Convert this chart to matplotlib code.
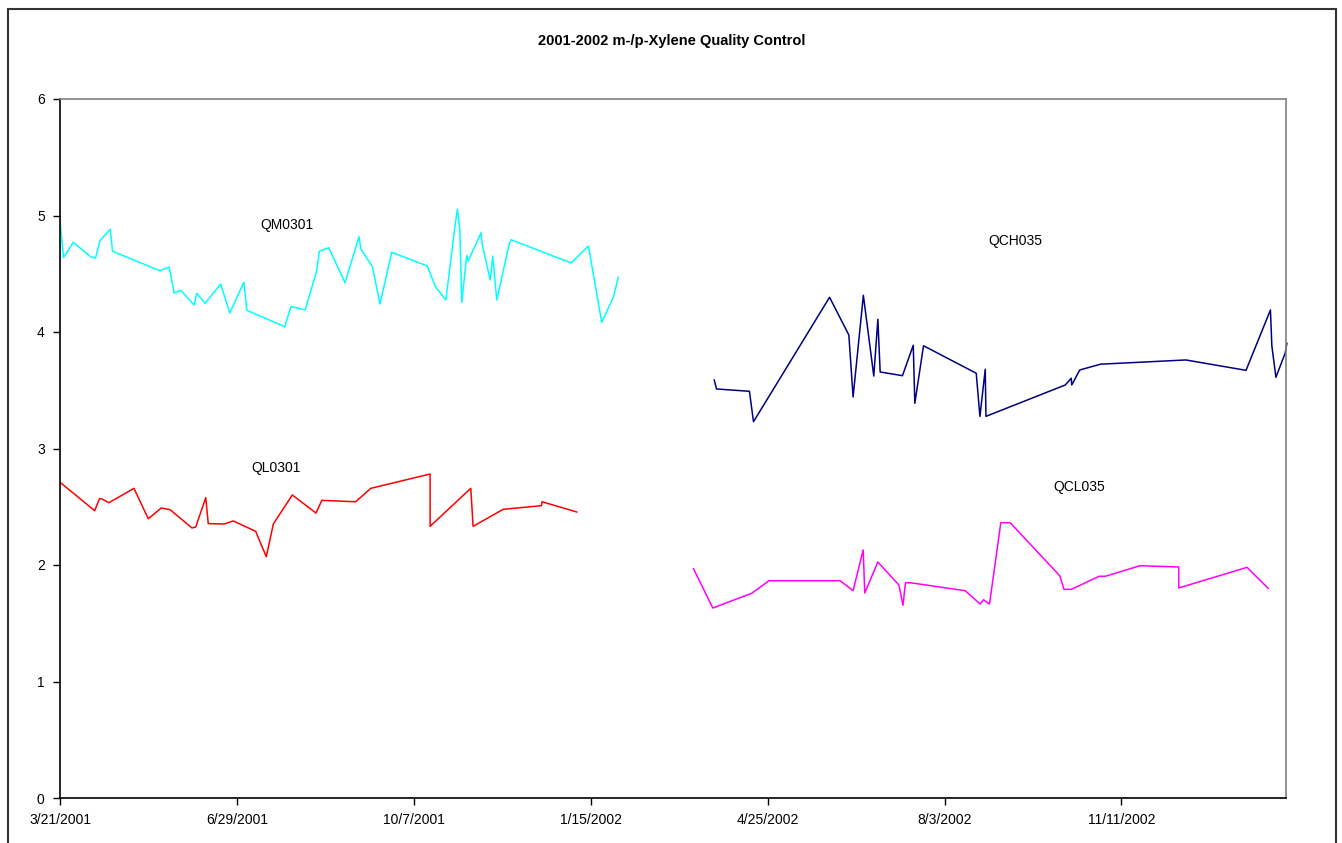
"""
2001-2002 m-/p-Xylene quality control chart.
"""

import matplotlib
matplotlib.use("Agg")
import matplotlib.pyplot as plt
import matplotlib.dates as mdates
from matplotlib.patches import Rectangle
from matplotlib.ticker import FuncFormatter
import pandas as pd

START = pd.Timestamp("2001-03-21")

# days after 3/21/2001, concentration
qm_days = [0, 2, 7.5, 17.3, 20.1, 22.6, 28.4, 29.7, 56.5, 61.7, 64.5, 68.3, 75.8, 77.3,
           82, 90.8, 96, 103.9, 105.6, 127, 130.6, 138.6, 145.1, 146.6, 151.9, 161.1,
           169, 170.1, 176.6, 180.9, 187.5, 207.6, 212.2, 218.1, 223.2, 224.6, 226,
           227.1, 229.9, 230.7, 238, 238.7, 243.2, 244.6, 246.9, 253.9, 255, 288.9,
           298.7, 306.2, 312.8, 315.6]
qm_vals = [4.955, 4.638, 4.770, 4.646, 4.635, 4.784, 4.882, 4.693, 4.526, 4.558, 4.335,
           4.358, 4.232, 4.332, 4.246, 4.412, 4.163, 4.427, 4.186, 4.046, 4.219, 4.189,
           4.526, 4.693, 4.724, 4.423, 4.818, 4.712, 4.560, 4.240, 4.684, 4.567, 4.389,
           4.275, 4.900, 5.054, 4.882, 4.254, 4.657, 4.609, 4.852, 4.747, 4.446, 4.652,
           4.275, 4.755, 4.792, 4.593, 4.738, 4.083, 4.298, 4.469]

ql_days = [0.5, 19.6, 22.3, 23.6, 27.7, 41.8, 49.9, 57.2, 62.2, 74.6, 76.7, 82.4, 83.8,
           92.8, 98, 110.6, 116.6, 120.6, 131.3, 144.7, 148, 167.1, 175.7, 209.2, 209.2,
           232.2, 233.5, 250.5, 272.1, 272.5, 292.1]
ql_vals = [2.704, 2.466, 2.569, 2.567, 2.535, 2.658, 2.397, 2.489, 2.475, 2.318, 2.326,
           2.578, 2.355, 2.352, 2.378, 2.289, 2.071, 2.352, 2.601, 2.446, 2.555, 2.543,
           2.658, 2.781, 2.332, 2.658, 2.332, 2.478, 2.509, 2.543, 2.455]

qch_days = [369.8, 371.1, 389.7, 392, 435, 445.9, 448.3, 454.1, 460, 462.3, 463.6, 476.2,
            482.3, 483.2, 488.1, 517.9, 520, 523, 523.4, 568.2, 571.6, 571.9, 576.4,
            588.5, 589.9, 636.4, 670.4, 684.2, 685, 687.3, 692.5, 693.5]
qch_vals = [3.588, 3.511, 3.491, 3.230, 4.298, 3.974, 3.442, 4.315, 3.622, 4.109, 3.657,
            3.625, 3.886, 3.388, 3.882, 3.646, 3.276, 3.680, 3.276, 3.545, 3.603, 3.545,
            3.674, 3.725, 3.725, 3.760, 3.671, 4.189, 3.882, 3.611, 3.817, 3.903]

qcl_days = [358.1, 369, 391, 400.7, 441, 448.3, 454, 454.9, 462.3, 474.2, 476.5, 477.9,
            480.6, 511.7, 520.1, 522, 525.4, 531.8, 537.1, 565.2, 567.5, 571.7, 587.3,
            590.8, 610.5, 632.4, 632.4, 671, 682.9]
qcl_vals = [1.968, 1.631, 1.757, 1.865, 1.865, 1.779, 2.129, 1.760, 2.026, 1.828, 1.654,
            1.848, 1.848, 1.779, 1.665, 1.702, 1.665, 2.363, 2.363, 1.906, 1.791, 1.791,
            1.903, 1.903, 1.994, 1.983, 1.803, 1.980, 1.800]


def to_dates(days):
    return START + pd.to_timedelta(days, unit="D")


plt.rcParams["font.family"] = ["Liberation Sans", "DejaVu Sans"]

W, H = 1342, 843
fig = plt.figure(figsize=(W / 100, H / 100), dpi=100)
ax = fig.add_axes([60 / W, 1 - 798 / H, (1286 - 60) / W, (798 - 99) / H])

ax.plot(to_dates(qm_days), qm_vals, color="#00FFFF", lw=1.1)
ax.plot(to_dates(ql_days), ql_vals, color="#FF0000", lw=1.1)
ax.plot(to_dates(qch_days), qch_vals, color="#000080", lw=1.1, clip_on=False)
ax.plot(to_dates(qcl_days), qcl_vals, color="#FF00FF", lw=1.1)

# series labels
ax.text(to_dates([128])[0], 4.92, "QM0301", fontsize=10, ha="center", va="center")
ax.text(to_dates([122])[0], 2.83, "QL0301", fontsize=10, ha="center", va="center")
ax.text(to_dates([540])[0], 4.78, "QCH035", fontsize=10, ha="center", va="center")
ax.text(to_dates([576])[0], 2.67, "QCL035", fontsize=10, ha="center", va="center")

ax.set_xlim(START, START + pd.Timedelta(days=693))
ax.set_ylim(0, 6)
ax.set_yticks(range(0, 7))
ax.set_xticks([START + pd.Timedelta(days=100 * k) for k in range(7)])
ax.xaxis.set_major_formatter(FuncFormatter(
    lambda v, pos: (lambda d: f"{d.month}/{d.day}/{d.year}")(mdates.num2date(v))))

ax.tick_params(axis="both", direction="out", length=5, width=1, labelsize=10,
               colors="black")
ax.tick_params(axis="x", pad=6)
ax.tick_params(axis="y", pad=6)
for s in ["left", "bottom"]:
    ax.spines[s].set_color("black")
    ax.spines[s].set_linewidth(1.2)
for s in ["top", "right"]:
    ax.spines[s].set_color("#808080")
    ax.spines[s].set_linewidth(1.2)

fig.text(672 / W, 1 - 41 / H, "2001-2002 m-/p-Xylene Quality Control",
         fontsize=10.5, fontweight="bold", ha="center", va="center")

# outer chart border
fig.patches.append(Rectangle((8 / W, -0.05), (1336 - 8) / W, 1.05 - 9 / H,
                             transform=fig.transFigure, fill=False,
                             edgecolor="#333333", lw=1.5))

fig.savefig("out.png", dpi=100)
